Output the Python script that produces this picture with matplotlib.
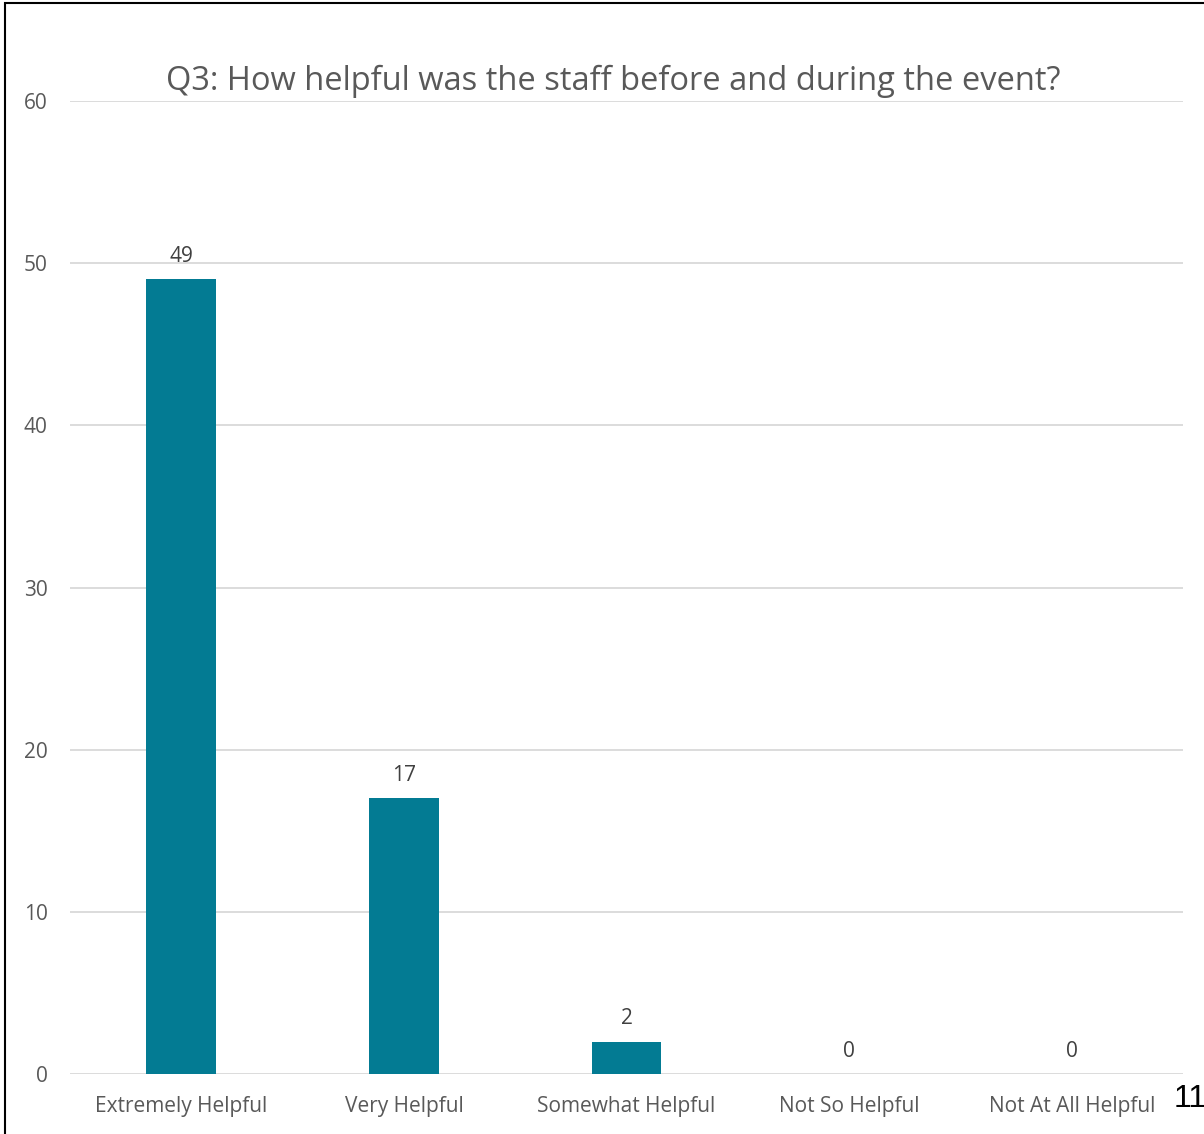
import matplotlib.pyplot as plt
from matplotlib.patches import Rectangle

# ---------------- data ----------------
categories = ["Extremely Helpful", "Very Helpful", "Somewhat Helpful",
              "Not So Helpful", "Not At All Helpful"]
counts = [49, 17, 2, 0, 0]
y_ticks = [0, 10, 20, 30, 40, 50, 60]
title = "Q3: How helpful was the staff before and during the event?"
page_no = "11"

BAR = "#037B93"
GRID = "#D9D9D9"
TXT = "#595959"
LBL = "#404040"

plt.rcParams['font.family'] = ['Open Sans', 'DejaVu Sans']

fig = plt.figure(figsize=(12.04, 11.34), dpi=100)
ax = fig.add_axes([0.0581, 0.0529, 0.9245, 0.858])

x = range(len(categories))
ax.bar(x, counts, width=0.314, color=BAR, zorder=3)
for xi, v in zip(x, counts):
    ax.annotate(str(v), (xi, v), xytext=(0, 9), textcoords="offset points",
                ha="center", va="bottom", fontsize=15, color=LBL)

ax.set_xlim(-0.5, len(categories) - 0.5)
ax.set_ylim(0, 60)
ax.set_yticks(y_ticks)
ax.set_xticks(list(x))
ax.set_xticklabels(categories)
ax.tick_params(axis="both", length=0, labelsize=15, labelcolor=TXT)
ax.tick_params(axis="x", pad=16)
ax.tick_params(axis="y", pad=16)
ax.grid(axis="y", color=GRID, lw=1.3, zorder=0)
for s in ax.spines.values():
    s.set_visible(False)

fig.text(0.509, 1 - 81 / 1134, title, ha="center", va="center", fontsize=23.5, color=TXT)

# outer frame (cropped on the right/bottom) and page number
fig.patches.append(Rectangle((5 / 1204, -0.1), 1.2, 0.1 + 1 - 2.5 / 1134,
                             transform=fig.transFigure, fill=False,
                             edgecolor="black", lw=1.5))
fig.text(1174 / 1204, 1 - 1099 / 1134, page_no, ha="left", va="center",
         fontsize=23, color="black", family=["Liberation Sans", "DejaVu Sans"])

fig.savefig("out.png", dpi=100)
